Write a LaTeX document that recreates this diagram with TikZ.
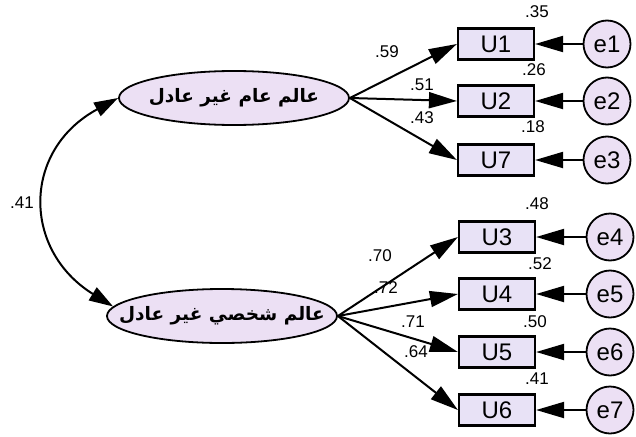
\documentclass[tikz,border=0pt]{standalone}
\usepackage{fontspec}
\setmainfont{Liberation Sans}
\newfontfamily\arabicfont[Script=Arabic]{DejaVu Sans}
\TeXXeTstate=1
\usetikzlibrary{arrows.meta,shapes.geometric}
\definecolor{boxfill}{RGB}{232,226,246}
\definecolor{latfill}{RGB}{236,224,244}
\begin{document}
\begin{tikzpicture}[x=1pt,y=-1pt,
    obs/.style={draw, line width=2.2pt, fill=boxfill, minimum width=76pt, minimum height=31pt, inner sep=0pt, font=\fontsize{24}{24}\selectfont},
    lat/.style={draw, ellipse, line width=1.8pt, fill=latfill, minimum width=230pt, minimum height=54pt, inner xsep=-25pt, inner ysep=0pt, font=\arabicfont\bfseries\fontsize{18.5}{18.5}\selectfont},
    err/.style={draw, circle, line width=1.8pt, fill=latfill, minimum size=47pt, inner sep=0pt, font=\fontsize{24}{24}\selectfont},
    arr/.style={-{Triangle[length=28pt,width=16pt]}, line width=2pt},
    num/.style={font=\fontsize{17}{17}\selectfont, inner sep=0pt}]
  \useasboundingbox (0,0) rectangle (636,436);
  % latent variables
  \node[lat] (fw1) at (234,98) {\beginR عالم عام غير عادل\endR};
  \node[lat] (fw2) at (222,316) {\beginR عالم شخصي غير عادل\endR};
  % indicators
  \node[obs] (u1) at (496,44) {U1};
  \node[obs] (u2) at (496,101) {U2};
  \node[obs] (u7) at (496,160) {U7};
  \node[obs] (u3) at (497,237) {U3};
  \node[obs] (u4) at (497,294) {U4};
  \node[obs] (u5) at (497,352) {U5};
  \node[obs] (u6) at (497,410) {U6};
  % errors
  \node[err] (e1) at (607,44) {e1};
  \node[err] (e2) at (607,101) {e2};
  \node[err] (e3) at (607,160) {e3};
  \node[err] (e4) at (610,237) {e4};
  \node[err] (e5) at (610,294) {e5};
  \node[err] (e6) at (610,352) {e6};
  \node[err] (e7) at (610,410) {e7};
  % loadings
  \draw[arr] (fw1.east) -- (u1.west);
  \draw[arr] (fw1.east) -- (u2.west);
  \draw[arr] (fw1.east) -- (u7.west);
  \draw[arr] (fw2.east) -- (u3.west);
  \draw[arr] (fw2.east) -- (u4.west);
  \draw[arr] (fw2.east) -- (u5.west);
  \draw[arr] (fw2.east) -- (u6.west);
  % residuals
  \draw[arr] (e1) -- (u1);
  \draw[arr] (e2) -- (u2);
  \draw[arr] (e3) -- (u7);
  \draw[arr] (e4) -- (u3);
  \draw[arr] (e5) -- (u4);
  \draw[arr] (e6) -- (u5);
  \draw[arr] (e7) -- (u6);
  % covariance
  \draw[{Triangle[length=24pt,width=15pt]}-{Triangle[length=24pt,width=15pt]}, line width=2pt]
    (fw1.west) .. controls (22,150) and (22,250) .. (fw2.175);
  % estimates
  \node[num] at (22,203) {.41};
  \node[num] at (387,52) {.59};
  \node[num] at (422,85) {.51};
  \node[num] at (422,118) {.43};
  \node[num] at (380,256) {.70};
  \node[num] at (386,288) {.72};
  \node[num] at (413,322) {.71};
  \node[num] at (416,352) {.64};
  \node[num] at (537,12) {.35};
  \node[num] at (534,70) {.26};
  \node[num] at (533,127) {.18};
  \node[num] at (537,204) {.48};
  \node[num] at (540,264) {.52};
  \node[num] at (535,322) {.50};
  \node[num] at (537,379) {.41};
\end{tikzpicture}
\end{document}
